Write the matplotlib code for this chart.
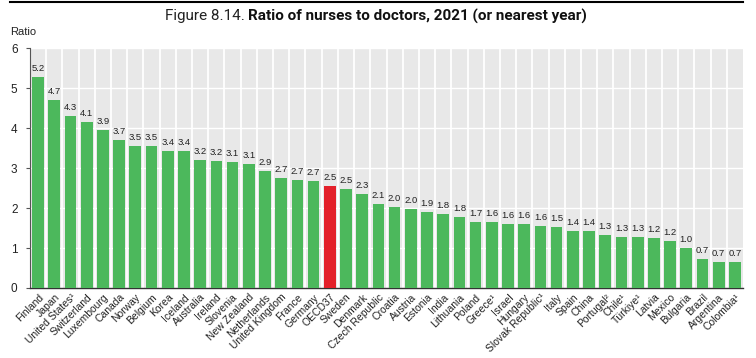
import matplotlib
matplotlib.use("Agg")
import matplotlib.pyplot as plt
import numpy as np

countries = ["Finland", "Japan", "United States¹", "Switzerland", "Luxembourg", "Canada",
             "Norway", "Belgium", "Korea", "Iceland", "Australia", "Ireland", "Slovenia",
             "New Zealand", "Netherlands", "United Kingdom", "France", "Germany", "OECD37",
             "Sweden", "Denmark", "Czech Republic", "Croatia", "Austria", "Estonia", "India",
             "Lithuania", "Poland", "Greece¹", "Israel", "Hungary", "Slovak Republic¹", "Italy",
             "Spain", "China", "Portugal²", "Chile¹", "Türkiye¹", "Latvia", "Mexico",
             "Bulgaria", "Brazil", "Argentina", "Colombia¹"]
values = [5.27, 4.70, 4.31, 4.16, 3.95, 3.70, 3.56, 3.55, 3.43, 3.43, 3.20, 3.17, 3.14,
          3.11, 2.93, 2.74, 2.70, 2.67, 2.55, 2.48, 2.35, 2.11, 2.02, 1.97, 1.90, 1.84,
          1.77, 1.66, 1.64, 1.60, 1.60, 1.56, 1.52, 1.43, 1.42, 1.33, 1.28, 1.28, 1.26,
          1.18, 0.99, 0.72, 0.65, 0.65]
labels = ["5.2", "4.7", "4.3", "4.1", "3.9", "3.7", "3.5", "3.5", "3.4", "3.4", "3.2", "3.2",
          "3.1", "3.1", "2.9", "2.7", "2.7", "2.7", "2.5", "2.5", "2.3", "2.1", "2.0", "2.0",
          "1.9", "1.8", "1.8", "1.7", "1.6", "1.6", "1.6", "1.6", "1.5", "1.4", "1.4", "1.3",
          "1.3", "1.3", "1.2", "1.2", "1.0", "0.7", "0.7", "0.7"]
highlight = "OECD37"

GREEN = "#4cb85c"
RED = "#e3202a"
BG = "#e8e8e8"

fig = plt.figure(figsize=(7.56, 3.58), dpi=100)
ax = fig.add_axes([30/756, 1-288/358, (743-30)/756, (288-48)/358])
ax.set_facecolor(BG)

x = np.arange(len(countries))
colors = [RED if c == highlight else GREEN for c in countries]
ax.bar(x, values, width=0.72, color=colors, zorder=3)

for xi, v, lab in zip(x, values, labels):
    ax.text(xi, v + 0.1, lab, ha="center", va="bottom", fontsize=6.8,
            family="Liberation Sans", color="#222222", zorder=4)

ax.set_xlim(-0.5, len(countries) - 0.5)
ax.set_ylim(0, 6)
for b in np.arange(0.5, len(countries) - 0.5, 1):
    ax.axvline(b, color="white", lw=1.3, zorder=1)
for yv in range(1, 7):
    ax.axhline(yv, color="white", lw=1.0, zorder=1)

ax.set_yticks(range(0, 7))
ax.set_yticklabels([str(i) for i in range(0, 7)], fontsize=8.5, family="Liberation Sans", color="#222222")
ax.set_xticks(x)
ax.set_xticklabels(countries, rotation=45, ha="right", va="top", rotation_mode="anchor",
                   fontsize=7.5, family="Liberation Sans", color="#222222")
ax.tick_params(axis="x", length=0, pad=3)
ax.tick_params(axis="y", length=3, width=0.8, color="#555555", pad=6)
for s in ["top", "right"]:
    ax.spines[s].set_visible(False)
ax.spines["left"].set_color("#555555")
ax.spines["left"].set_linewidth(0.8)
ax.spines["bottom"].set_color("#333333")
ax.spines["bottom"].set_linewidth(1.0)

fig.text(10/756, 1-32/358, "Ratio", fontsize=8, family="Liberation Sans", color="#222222",
         ha="left", va="center")

# title
t1 = fig.text(0.5, 1-16/358, "Figure 8.14. ", fontsize=11, family="Roboto", color="#222222",
              ha="left", va="center")
t2 = fig.text(0.5, 1-16/358, "Ratio of nurses to doctors, 2021 (or nearest year)", fontsize=11,
              family="Roboto", weight="bold", color="#111111", ha="left", va="center")
fig.canvas.draw()
r = fig.canvas.get_renderer()
w1 = t1.get_window_extent(r).width
w2 = t2.get_window_extent(r).width
total = w1 + w2
start = 376 - total / 2
t1.set_x(start / 756)
t2.set_x((start + w1) / 756)

fig.add_artist(plt.Line2D([10/756, 743/756], [1-1.5/358, 1-1.5/358], color="black", lw=1.5,
                          transform=fig.transFigure))

fig.savefig("out.png", dpi=100)
